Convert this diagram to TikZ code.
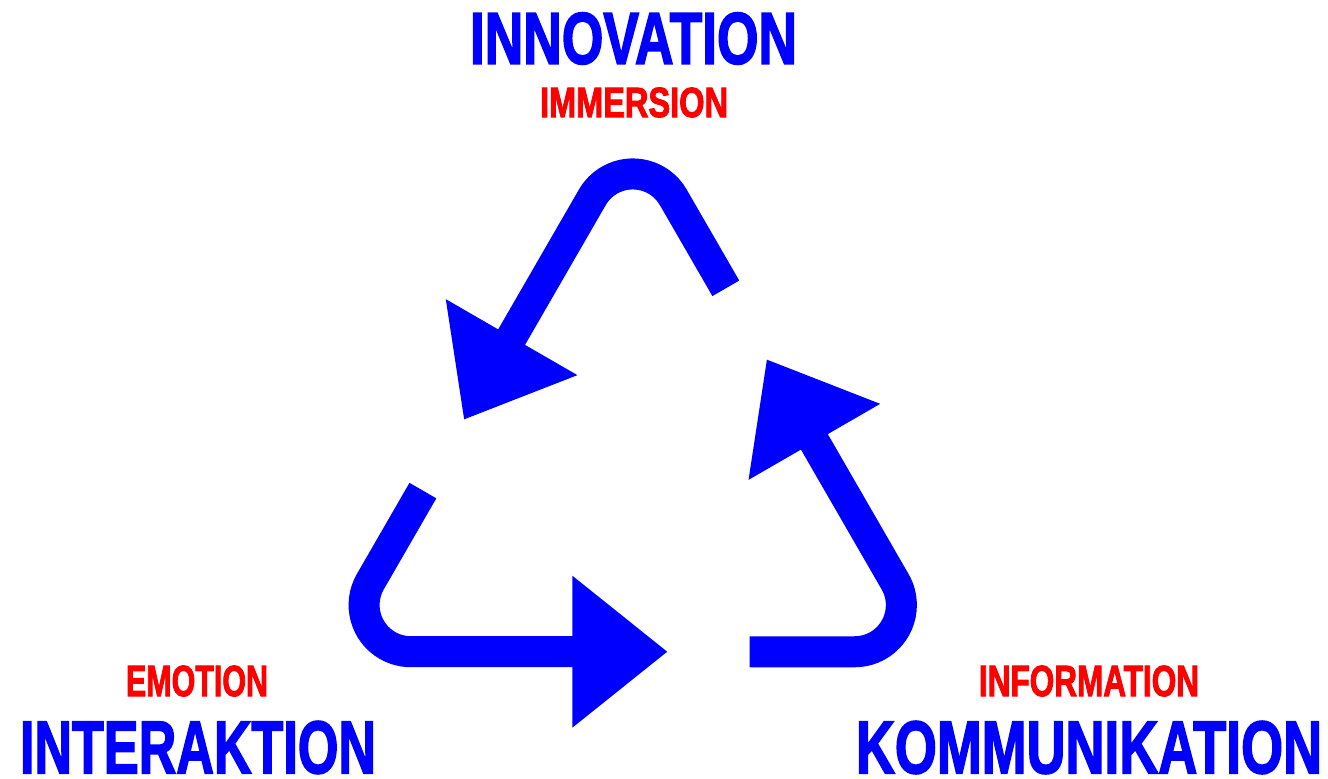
\documentclass[tikz,border=0pt]{standalone}
\usepackage{fontspec}
\setmainfont{Liberation Sans}
\newfontfamily\heavyfont{Liberation Sans}[FakeBold=2.5]
\usepackage{graphicx}
\definecolor{pblue}{RGB}{0,0,255}
\definecolor{pred}{RGB}{255,0,0}
\begin{document}
\begin{tikzpicture}[x=1pt,y=1pt,
  arrowbody/.style={draw=pblue, line width=31pt},
  arrowhead/.style={fill=pblue},
  bigtext/.style={inner sep=0pt, text=pblue, font=\heavyfont\bfseries},
  smalltext/.style={inner sep=0pt, text=pred, font=\heavyfont\bfseries}]
\useasboundingbox (0,0) rectangle (1328,779);
\coordinate (G) at (632.75,302.1);
\foreach \r in {0,120,240} {
  \begin{scope}[rotate around={\r:(G)}]
    \coordinate (s) at (422.9,288.4);
    \coordinate (p) at (370.35,197.36);
    \coordinate (b) at (573,127.3);
    \draw[arrowbody] (s) -- (p) arc[start angle=150, end angle=270, radius=46.7] -- (b);
    \fill[arrowhead] (572.3,203.3) -- (667.2,127.3) -- (572.3,51.3) -- cycle;
  \end{scope}
}
\node[bigtext] (innov) at (633.5,740.5) {\resizebox{327pt}{51pt}{INNOVATION}};
\node[smalltext] (immer) at (634,676.5) {\resizebox{188pt}{29.5pt}{IMMERSION}};
\node[smalltext] (emo) at (197,98) {\resizebox{142pt}{30.5pt}{EMOTION}};
\node[bigtext] (inter) at (198,31.5) {\resizebox{356pt}{52pt}{INTERAKTION}};
\node[smalltext] (info) at (1089,98) {\resizebox{220pt}{30.5pt}{INFORMATION}};
\node[bigtext] (komm) at (1089,31.5) {\resizebox{466pt}{52pt}{KOMMUNIKATION}};
\end{tikzpicture}
\end{document}
